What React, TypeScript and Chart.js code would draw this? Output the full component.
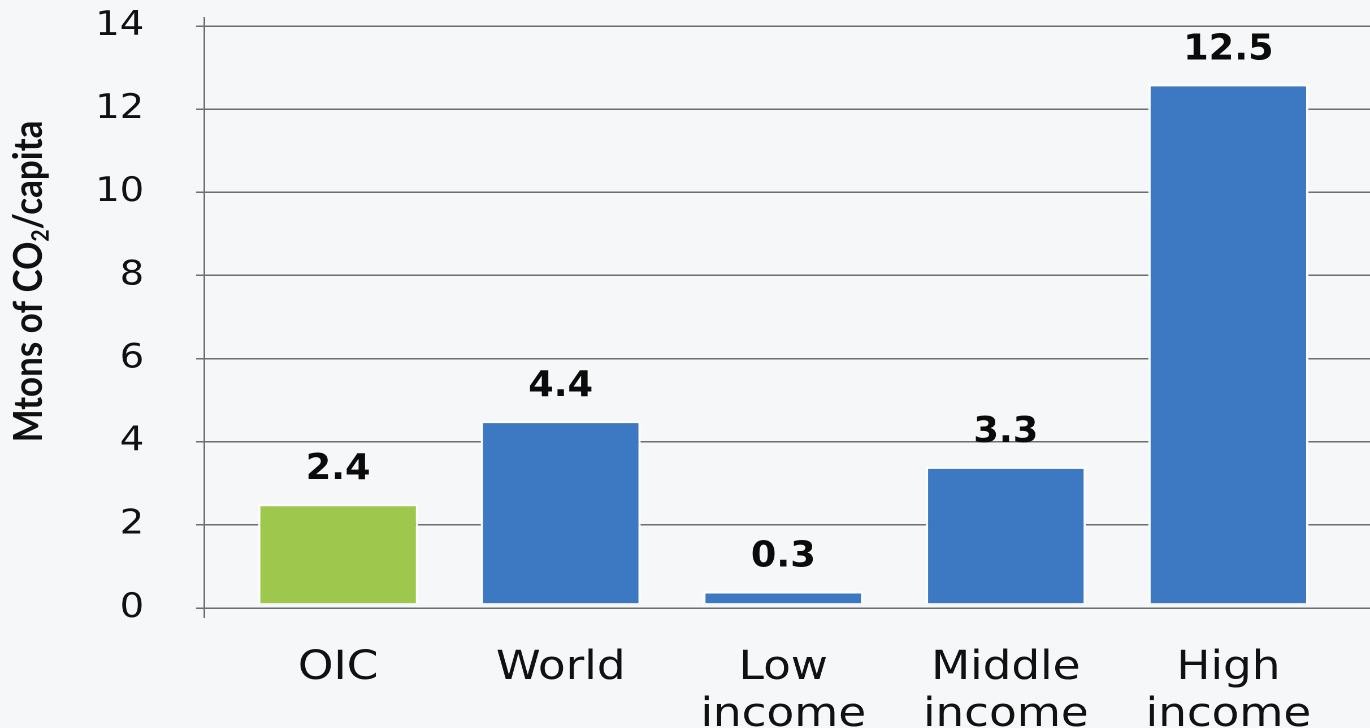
import { useEffect, useRef } from 'react';
import { Chart, registerables } from 'chart.js';

Chart.register(...registerables);

// ---- data ----
const categories: (string | string[])[] = ['OIC', 'World', ['Low', 'income'], ['Middle', 'income'], ['High', 'income']];
const values: number[] = [2.4, 4.4, 0.3, 3.3, 12.5];
const valueLabels: string[] = ['2.4', '4.4', '0.3', '3.3', '12.5'];
const barColors: string[] = ['#9DC84D', '#3D79C2', '#3D79C2', '#3D79C2', '#3D79C2'];
const yTickValues: number[] = [0, 2, 4, 6, 8, 10, 12, 14];
const yTitleParts: string[] = ['Mtons of CO', '2', '/capita'];

// ---- geometry (the reference is horizontally stretched) ----
const VIEW_W = 1370;
const VIEW_H = 728;
const STRETCH = 1.13;
const CANVAS_W = Math.round(VIEW_W / STRETCH);
const AXIS_X = 204 / STRETCH;
const FIRST_CENTER = 338 / STRETCH;
const SPACING = 222.5 / STRETCH;
const X_MIN = (AXIS_X - FIRST_CENTER) / SPACING;
const X_MAX = (CANVAS_W - FIRST_CENTER) / SPACING;

const GRID = '#6f6f6f';
const TEXT = '#111111';

const barLabelPlugin = {
  id: 'barLabels',
  beforeDatasetsDraw(chart: any) {
    chart.ctx.save();
    chart.ctx.translate(0, -4);
  },
  afterDatasetsDraw(chart: any) {
    const ctx = chart.ctx;
    ctx.restore();
    const meta = chart.getDatasetMeta(0);
    const y = chart.scales.y;
    ctx.save();
    ctx.font = "bold 36px 'DejaVu Sans Condensed', 'DejaVu Sans', sans-serif";
    ctx.fillStyle = '#0b0b0b';
    ctx.textAlign = 'center';
    ctx.textBaseline = 'alphabetic';
    meta.data.forEach((bar: any, i: number) => {
      ctx.fillText(valueLabels[i], bar.x, y.getPixelForValue(values[i]) - 29);
    });
    ctx.restore();
  },
};

const yTitlePlugin = {
  id: 'yTitle',
  afterDraw(chart: any) {
    const ctx = chart.ctx;
    const big = "bold 35px Lato, 'Open Sans', sans-serif";
    const small = "bold 21px Lato, 'Open Sans', sans-serif";
    ctx.save();
    ctx.translate(37, 281.5);
    ctx.rotate(-Math.PI / 2);
    ctx.fillStyle = TEXT;
    ctx.textAlign = 'left';
    ctx.textBaseline = 'alphabetic';
    ctx.font = big;
    const w0 = ctx.measureText(yTitleParts[0]).width;
    const w2 = ctx.measureText(yTitleParts[2]).width;
    ctx.font = small;
    const w1 = ctx.measureText(yTitleParts[1]).width;
    let x = -(w0 + w1 + w2) / 2;
    ctx.font = big;
    ctx.fillText(yTitleParts[0], x, 0);
    x += w0;
    ctx.font = small;
    ctx.fillText(yTitleParts[1], x, 6);
    x += w1;
    ctx.font = big;
    ctx.fillText(yTitleParts[2], x, 0);
    ctx.restore();
  },
};

export default function App() {
  const ref = useRef<HTMLCanvasElement>(null);

  useEffect(() => {
    const canvas = ref.current;
    if (!canvas) return;
    const chart = new Chart(canvas, {
      type: 'bar',
      data: {
        datasets: [
          {
            data: categories.map((_, i) => ({ x: i, y: values[i] })),
            backgroundColor: barColors,
            borderColor: '#ffffff',
            borderWidth: { top: 2, left: 2, right: 2, bottom: 0 },
            barPercentage: 0.719,
            categoryPercentage: 1,
          },
        ],
      },
      options: {
        responsive: false,
        maintainAspectRatio: false,
        animation: false,
        devicePixelRatio: 2,
        layout: { padding: { top: 17.7, left: 0, right: 0, bottom: 0 } },
        plugins: {
          legend: { display: false },
          tooltip: { enabled: false },
          title: { display: false },
        },
        scales: {
          x: {
            type: 'linear',
            min: X_MIN,
            max: X_MAX,
            offset: false,
            grid: { display: false, drawTicks: false },
            border: { display: false },
            ticks: {
              stepSize: 1,
              includeBounds: false,
              autoSkip: false,
              maxRotation: 0,
              minRotation: 0,
              padding: 28,
              color: TEXT,
              font: { family: "'DejaVu Sans', sans-serif", size: 40, lineHeight: 1.175 },
              callback: (v: any) => (Number.isInteger(v) && categories[v] !== undefined ? categories[v] : ''),
            },
            afterFit: (s: any) => {
              s.height = VIEW_H - 617;
              s.paddingLeft = 0;
              s.paddingRight = 0;
            },
          },
          y: {
            type: 'linear',
            min: -0.2165,
            max: 14.2,
            grid: { color: GRID, lineWidth: 1.5, drawTicks: true, tickLength: 7 },
            border: { display: true, color: GRID, width: 1.5 },
            ticks: {
              stepSize: yTickValues[1] - yTickValues[0],
              includeBounds: false,
              padding: 46,
              color: TEXT,
              font: { family: "'DejaVu Sans', sans-serif", size: 34 },
              callback: (v: any) => (yTickValues.includes(v) ? String(v) : ''),
            },
            afterFit: (s: any) => {
              s.width = AXIS_X;
              s.paddingTop = 0;
              s.paddingBottom = 0;
            },
          },
        },
      },
      plugins: [barLabelPlugin, yTitlePlugin],
    } as any);
    return () => chart.destroy();
  }, []);

  return (
    <div
      style={{
        position: 'fixed',
        left: 0,
        top: 0,
        width: VIEW_W,
        height: VIEW_H,
        background: '#f6f7f9',
        overflow: 'hidden',
      }}
    >
      <canvas
        ref={ref}
        width={CANVAS_W}
        height={VIEW_H}
        style={{ display: 'block', width: `${VIEW_W}px`, height: `${VIEW_H}px` }}
      />
    </div>
  );
}
